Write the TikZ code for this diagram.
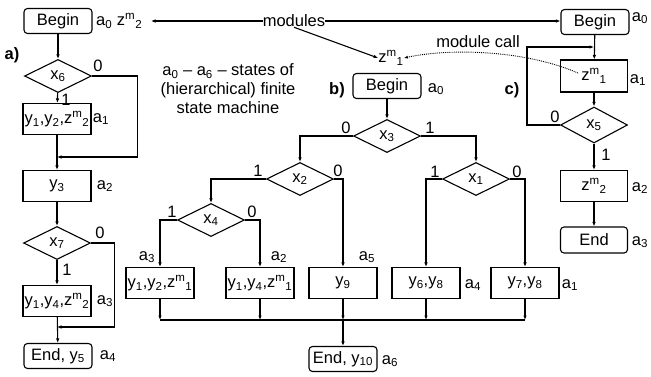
\documentclass[tikz,border=0pt]{standalone}
\usepackage{fontspec}
\setmainfont{Liberation Sans}
\usetikzlibrary{shapes.geometric,arrows.meta}
\begin{document}
\begin{tikzpicture}[x=1pt,y=-1pt,
  every node/.style={font=\fontsize{16.5}{19}\selectfont, inner sep=0pt},
  box/.style={draw, line width=1.1pt, minimum width=68pt, minimum height=31pt},
  rbox/.style={draw, line width=1.1pt, rounded corners=3.5pt, minimum width=68pt, minimum height=25pt},
  dec/.style={draw, diamond, aspect=2, line width=1.1pt, minimum width=67pt, minimum height=33pt, inner sep=0pt},
  link/.style={line width=1.1pt},
  arr/.style={link, -{Latex[length=4.5pt,width=3.5pt]}},
  pan/.style={font=\bfseries\fontsize{16.5}{19}\selectfont}]
\useasboundingbox (0,0) rectangle (651,376);

% ---------- panel a ----------
\node[rbox] (A0) at (58,21) {Begin};
\node[anchor=west] (A0L) at (96,21) {a\textsubscript{0} z\textsuperscript{m}\textsubscript{2}};
\node[pan] (PA) at (12,55) {a)};
\node[dec] (X6) at (58,76) {x\textsubscript{6}};
\node (X6z) at (98,66) {0};
\node (X6o) at (66,100) {1};
\node[box] (B1) at (57,119) {y\textsubscript{1},y\textsubscript{2},z\textsuperscript{m}\textsubscript{2}};
\node (B1L) at (101,119) {a\textsubscript{1}};
\coordinate (J1) at (57,157);
\node[box] (B2) at (57,186) {y\textsubscript{3}};
\node (B2L) at (105,186) {a\textsubscript{2}};
\node[dec] (X7) at (57,243) {x\textsubscript{7}};
\node (X7z) at (100,233) {0};
\node (X7o) at (67,270) {1};
\node[box] (B3) at (57,301) {y\textsubscript{1},y\textsubscript{4},z\textsuperscript{m}\textsubscript{2}};
\node (B3L) at (105,301) {a\textsubscript{3}};
\coordinate (J2) at (57,327);
\node[rbox] (AE) at (58,356) {End, y\textsubscript{5}};
\node (AEL) at (108,356) {a\textsubscript{4}};

\draw[arr] (A0) -- (X6);
\draw[arr] (X6) -- (B1);
\draw[arr] (B1) -- (B2);
\draw[arr] (X6.east) -- ++(45.5,0) |- (J1);
\draw[arr] (B2) -- (X7);
\draw[arr] (X7) -- (B3);
\draw[arr] (B3) -- (AE);
\draw[arr] (X7.east) -- ++(23,0) |- (J2);

% ---------- top annotations ----------
\node (MOD) at (294,21) {modules};
\coordinate (LA) at (151,21);
\draw[arr] (MOD.west) -- (LA);
\node[align=center] (TXT) at (228,89) {a\textsubscript{0} -- a\textsubscript{6} -- states of\\(hierarchical) finite\\state machine};

% ---------- panel b ----------
\node (ZM) at (391,58) {z\textsuperscript{m}\textsubscript{1}};
\draw[arr] (MOD.south) -- (ZM.west);
\node[pan] (PB) at (337,90) {b)};
\node[rbox] (BB) at (387,86) {Begin};
\node (BBL) at (436,89) {a\textsubscript{0}};
\node[dec] (X3) at (387,136) {x\textsubscript{3}};
\node (X3z) at (346,128) {0};
\node (X3o) at (430,128) {1};
\node[dec] (X2) at (300,179) {x\textsubscript{2}};
\node (X2o) at (258,171) {1};
\node (X2z) at (338,171) {0};
\node[dec] (X4) at (211,220) {x\textsubscript{4}};
\node (X4o) at (172,212) {1};
\node (X4z) at (252,212) {0};
\node[dec] (X1) at (476,179) {x\textsubscript{1}};
\node (X1o) at (435,172) {1};
\node (X1z) at (517,172) {0};

\node[box] (P1) at (160,283) {y\textsubscript{1},y\textsubscript{2},z\textsuperscript{m}\textsubscript{1}};
\node[box] (P2) at (260,283) {y\textsubscript{1},y\textsubscript{4},z\textsuperscript{m}\textsubscript{1}};
\node[box] (P3) at (343,283) {y\textsubscript{9}};
\node[box] (P4) at (426,283) {y\textsubscript{6},y\textsubscript{8}};
\node[box] (P5) at (525,283) {y\textsubscript{7},y\textsubscript{8}};
\node (P1L) at (147,257) {a\textsubscript{3}};
\node (P2L) at (279,257) {a\textsubscript{2}};
\node (P3L) at (367,257) {a\textsubscript{5}};
\node (P4L) at (473,285) {a\textsubscript{4}};
\node (P5L) at (570,285) {a\textsubscript{1}};
\coordinate (ML) at (160,320);
\node[rbox] (EB) at (343,359) {End, y\textsubscript{10}};
\node (EBL) at (390,361) {a\textsubscript{6}};

\draw[arr] (BB) -- (X3);
\draw[arr] (X3.west) -| (X2.north);
\draw[arr] (X3.east) -| (X1.north);
\draw[arr] (X2.west) -| (X4.north);
\draw[arr] (X2.east) -| (P3.north);
\draw[arr] (X4.west) -| (P1.north);
\draw[arr] (X4.east) -| (P2.north);
\draw[arr] (X1.west) -| (P4.north);
\draw[arr] (X1.east) -| (P5.north);
\draw[link] (P1.south |- ML) -- (P5.south |- ML);
\foreach \p in {P1,P2,P3,P4,P5}{
  \draw[arr] (\p.south) -- (\p.south |- ML);
}
\draw[arr] (P3.south |- ML) -- (EB.north);

% ---------- panel c ----------
\node[rbox] (CB) at (595,22) {Begin};
\node (CBL) at (640,18) {a\textsubscript{0}};
\draw[arr] (MOD.east) -- (MOD.east -| CB.west);
\node[pan] (PC) at (512,90) {c)};
\node[box, minimum width=67pt, minimum height=32pt] (C1) at (594,76) {z\textsuperscript{m}\textsubscript{1}};
\node (C1L) at (638,80) {a\textsubscript{1}};
\node[dec, minimum height=36pt] (X5) at (594,125) {x\textsubscript{5}};
\node (X5z) at (555,117) {0};
\node (X5o) at (606,155) {1};
\node[box, minimum width=67pt] (C2) at (594,186) {z\textsuperscript{m}\textsubscript{2}};
\node (C2L) at (640,188) {a\textsubscript{2}};
\node[rbox, minimum width=67pt, minimum height=26pt] (CE) at (594,240) {End};
\node (CEL) at (640,242) {a\textsubscript{3}};
\coordinate (JC) at (594,47);

\draw[arr] (CB) -- (C1);
\draw[arr] (C1) -- (X5);
\draw[arr] (X5) -- (C2);
\draw[arr] (C2) -- (CE);
\draw[arr] (X5.west) -- ++(-33,0) |- (JC);

\node (MC) at (478,42) {module call};
\coordinate (CZ) at (578,73);
\draw[line width=0.9pt, densely dotted, -{Latex[length=4pt,width=3pt]}] (CZ) .. controls (525,50) and (450,48) .. (ZM.east);
\end{tikzpicture}
\end{document}
